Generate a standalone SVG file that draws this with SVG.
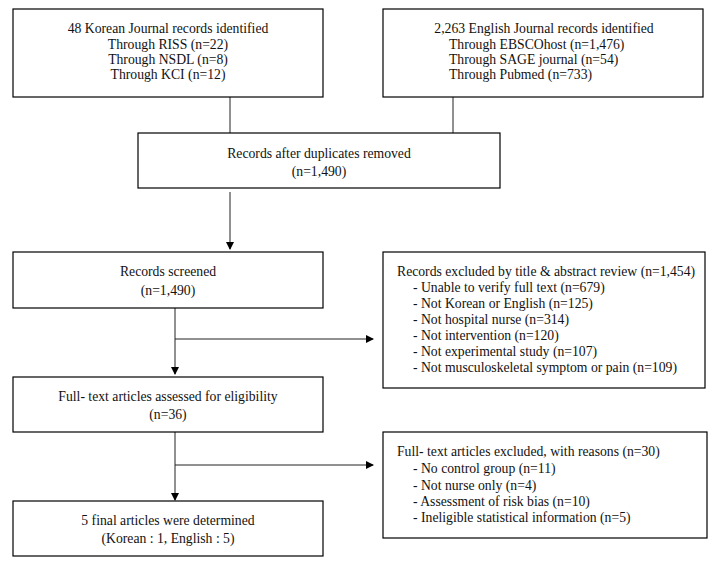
<svg xmlns="http://www.w3.org/2000/svg" width="725" height="568" viewBox="0 0 725 568">
<style>
.box{fill:#fff;stroke:#000;stroke-width:1.2}
.t{font-family:"Liberation Serif","Times New Roman",serif;font-size:13.7px;fill:#111}
.c{text-anchor:middle}
.ln{stroke:#222;stroke-width:1;fill:none}
</style>
<defs>
<marker id="ah" markerWidth="8" markerHeight="8" refX="7" refY="4" orient="auto" markerUnits="userSpaceOnUse">
<path d="M0,0 L8,4 L0,8 Z" fill="#000"/>
</marker>
</defs>
<rect width="725" height="568" fill="#fff"/>
<g id="connectors">
<line class="ln" x1="230" y1="97" x2="230" y2="133"/>
<line class="ln" x1="453" y1="97" x2="453" y2="133"/>
<line class="ln" x1="230" y1="192" x2="230" y2="249" marker-end="url(#ah)"/>
<line class="ln" x1="175" y1="308" x2="175" y2="374" marker-end="url(#ah)"/>
<line class="ln" x1="175" y1="339" x2="373" y2="339" marker-end="url(#ah)"/>
<line class="ln" x1="175" y1="432" x2="175" y2="500" marker-end="url(#ah)"/>
<line class="ln" x1="175" y1="465" x2="373" y2="465" marker-end="url(#ah)"/>
</g>
<g id="korean">
<rect class="box" x="13" y="9" width="310" height="88"/>
<text class="t c" x="168" y="33">48 Korean Journal records identified</text>
<text class="t c" x="168" y="49">Through RISS (n=22)</text>
<text class="t c" x="168" y="64">Through NSDL (n=8)</text>
<text class="t c" x="168" y="79">Through KCI (n=12)</text>
</g>
<g id="english">
<rect class="box" x="383" y="9" width="320" height="88"/>
<text class="t c" x="544" y="33">2,263 English Journal records identified</text>
<text class="t" x="449" y="49">Through EBSCOhost (n=1,476)</text>
<text class="t" x="449" y="64">Through SAGE journal (n=54)</text>
<text class="t" x="449" y="79">Through Pubmed (n=733)</text>
</g>
<g id="dedup">
<rect class="box" x="138" y="133" width="362" height="55"/>
<text class="t c" x="319" y="158">Records after duplicates removed</text>
<text class="t c" x="319" y="176">(n=1,490)</text>
</g>
<g id="screened">
<rect class="box" x="13" y="252" width="310" height="56"/>
<text class="t c" x="168" y="276">Records screened</text>
<text class="t c" x="168" y="295">(n=1,490)</text>
</g>
<g id="excluded1">
<rect class="box" x="383" y="252" width="322" height="136"/>
<text class="t" x="397" y="276">Records excluded by title &amp; abstract review (n=1,454)</text>
<text class="t" x="413" y="292">- Unable to verify full text (n=679)</text>
<text class="t" x="413" y="308">- Not Korean or English (n=125)</text>
<text class="t" x="413" y="324">- Not hospital nurse (n=314)</text>
<text class="t" x="413" y="340">- Not intervention (n=120)</text>
<text class="t" x="413" y="356">- Not experimental study (n=107)</text>
<text class="t" x="413" y="372">- Not musculoskeletal symptom or pain (n=109)</text>
</g>
<g id="fulltext">
<rect class="box" x="13" y="377" width="310" height="55"/>
<text class="t c" x="168" y="401">Full- text articles assessed for eligibility</text>
<text class="t c" x="168" y="419">(n=36)</text>
</g>
<g id="excluded2">
<rect class="box" x="383" y="432" width="324" height="106"/>
<text class="t" x="397" y="456">Full- text articles excluded, with reasons (n=30)</text>
<text class="t" x="413" y="473">- No control group (n=11)</text>
<text class="t" x="413" y="490">- Not nurse only (n=4)</text>
<text class="t" x="413" y="506">- Assessment of risk bias (n=10)</text>
<text class="t" x="413" y="522">- Ineligible statistical information (n=5)</text>
</g>
<g id="final">
<rect class="box" x="13" y="501" width="310" height="55"/>
<text class="t c" x="168" y="525">5 final articles were determined</text>
<text class="t c" x="168" y="543">(Korean : 1, English : 5)</text>
</g>
</svg>
